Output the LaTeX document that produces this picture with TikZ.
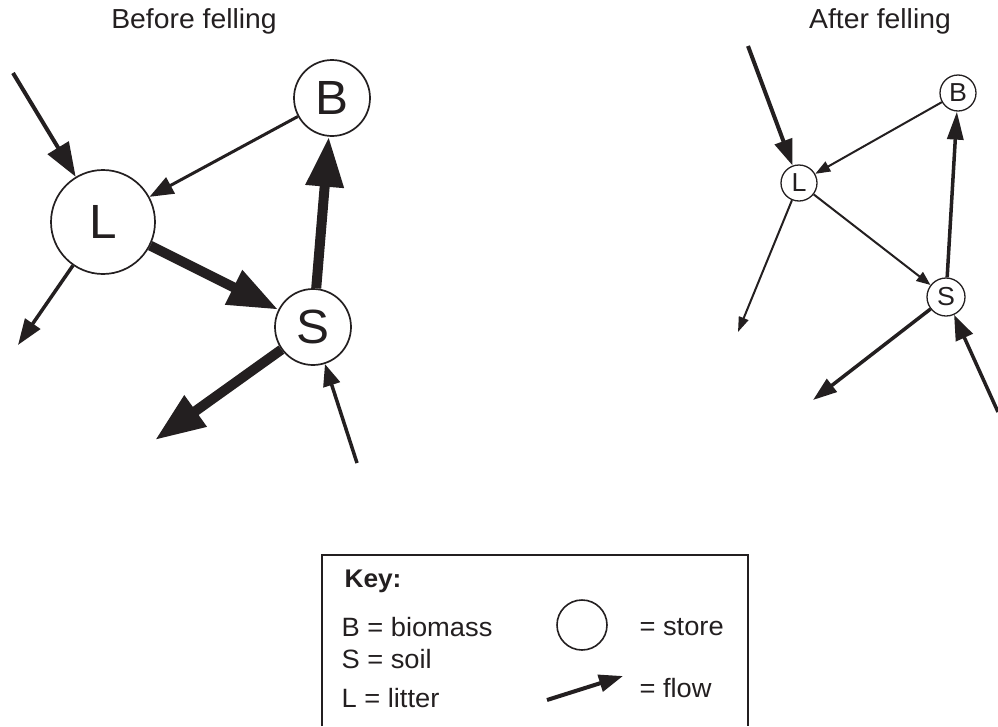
\documentclass[tikz,border=0pt]{standalone}
\usepackage{fontspec}
\setmainfont{Liberation Sans}[FakeStretch=1.03]
\usetikzlibrary{arrows.meta}
\definecolor{ink}{HTML}{231F20}
\begin{document}
\begin{tikzpicture}[x=1pt,y=-1pt,
  every node/.style={text=ink},
  bigstore/.style={circle,draw=ink,line width=1.7pt,inner sep=0pt,font=\fontsize{48}{52}\selectfont},
  smallstore/.style={circle,draw=ink,line width=1.3pt,inner sep=0pt,minimum size=36pt,font=\fontsize{26}{28}\selectfont},
  title/.style={anchor=base,font=\fontsize{27.5}{30}\selectfont},
  keytext/.style={anchor=base west,font=\fontsize{26.5}{28}\selectfont},
  flowA/.style={draw=ink,line width=10pt,-{Triangle[length=50pt,width=36pt]}},
  flowB/.style={draw=ink,line width=4pt,-{Triangle[length=34pt,width=24pt]}},
  flowC/.style={draw=ink,line width=3pt,-{Triangle[length=24pt,width=18pt]}},
  flowD/.style={draw=ink,line width=3.5pt,-{Triangle[length=26pt,width=18pt]}},
  flowE/.style={draw=ink,line width=2pt,-{Triangle[length=15pt,width=11pt]}},
  flowF/.style={draw=ink,line width=3.5pt,-{Triangle[length=26pt,width=17pt]}},
]
\useasboundingbox (0,0) rectangle (998,726);

% titles
\node[title] (t1) at (194,28) {Before felling};
\node[title] (t2) at (880,28) {After felling};

% ---- before felling ----
\node[bigstore,minimum size=104pt] (L1) at (103,222) {L};
\node[bigstore,minimum size=76pt] (B1) at (332,98) {B};
\node[bigstore,minimum size=76pt] (S1) at (313,327) {S};
\coordinate (inL1) at (13,73);
\coordinate (outL1) at (18,345);
\coordinate (outS1) at (155,440);
\coordinate (inS1) at (357,463);

\draw[flowB] (inL1) -- (L1);
\draw[flowC] (B1) -- (L1);
\draw[flowA] (L1) -- (S1);
\draw[flowA] (S1) -- (B1);
\draw[flowD] (L1) -- (outL1);
\draw[flowA] (S1) -- (outS1);
\draw[flowD,-{Triangle[length=22pt,width=17pt]}] (inS1) -- (S1);

% ---- after felling ----
\node[smallstore] (L2) at (799,183) {L};
\node[smallstore] (B2) at (958,93) {B};
\node[smallstore,minimum size=38pt] (S2) at (946,297) {S};
\coordinate (inL2) at (748,46);
\coordinate (outL2) at (738,332);
\coordinate (outS2) at (813,400);
\coordinate (inS2) at (998,412);

\draw[flowB,-{Triangle[length=26pt,width=18pt]}] (inL2) -- (L2);
\draw[flowE] (B2) -- (L2);
\draw[flowE,-{Triangle[length=14pt,width=11pt]}] (L2) -- (S2);
\draw[flowF,-{Triangle[length=28pt,width=16pt]}] (S2) -- (B2);
\draw[flowE,-{Triangle[length=15pt,width=10pt]}] (L2) -- (outL2);
\draw[flowF,-{Triangle[length=24pt,width=16pt]}] (S2) -- (outS2);
\draw[flowF,-{Triangle[length=25pt,width=18pt]}] (inS2) -- (S2);

% ---- key ----
\draw[draw=ink,line width=2pt] (322,726) |- (748,555) -- (748,726);
\node[keytext,font=\bfseries\fontsize{25.5}{28}\selectfont] (k0) at (341,587) {Key:};
\node[keytext] (k1) at (338,636) {B = biomass};
\node[keytext] (k2) at (338,668) {S = soil};
\node[keytext] (k3) at (338,707) {L = litter};
\node[circle,draw=ink,line width=1.6pt,minimum size=50pt,inner sep=0pt] (kc) at (582,625) {};
\node[keytext] (k4) at (636,635) {= store};
\coordinate (kf1) at (547,700);
\coordinate (kf2) at (623,676);
\draw[draw=ink,line width=4pt,-{Triangle[length=24pt,width=17pt]}] (kf1) -- (kf2);
\node[keytext] (k5) at (636,697) {= flow};
\end{tikzpicture}
\end{document}
